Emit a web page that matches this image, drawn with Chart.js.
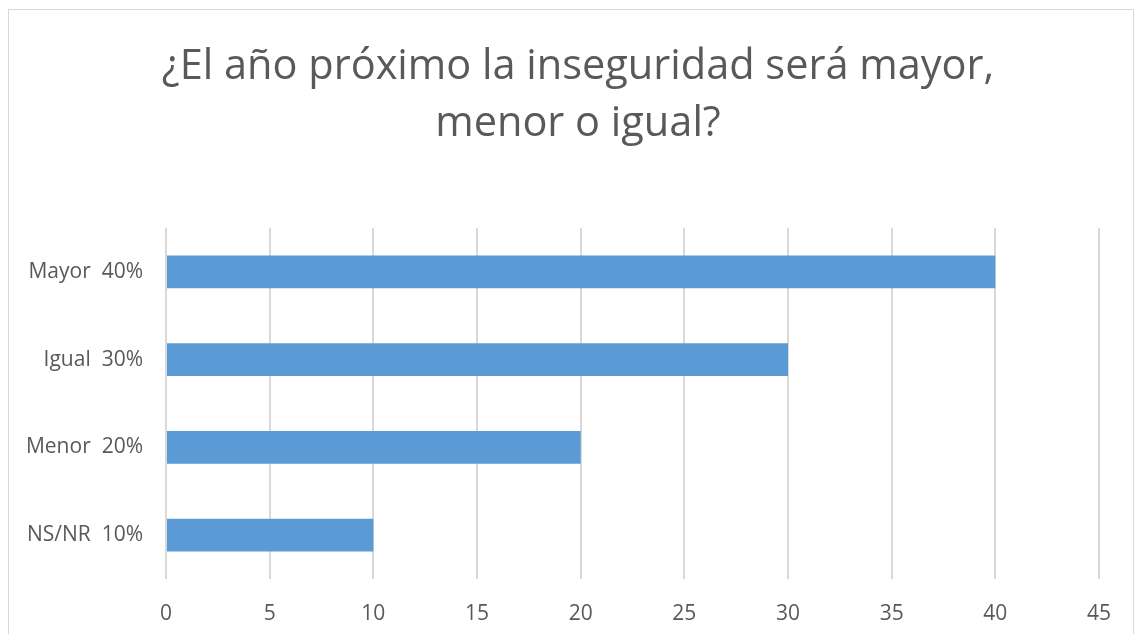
<!DOCTYPE html>
<html>
<head>
<meta charset="utf-8">
<script src="https://cdn.jsdelivr.net/npm/chart.js@4/dist/chart.umd.min.js"></script>
<style>
  body { margin: 0; background: #fff; }
  #wrap { position: relative; width: 1134px; height: 634px; }
  #frame { position: absolute; left: 8px; top: 9px; width: 1124px; height: 640px; border: 1px solid #d9d9d9; pointer-events: none; }
</style>
</head>
<body>
<div id="wrap">
  <canvas id="chart" width="1134" height="634"></canvas>
  <div id="frame"></div>
</div>
<script>
const categories = ['Mayor  40%', 'Igual  30%', 'Menor  20%', 'NS/NR  10%']
const values = [40, 30, 20, 10]
const titleLines = ['¿El año próximo la inseguridad será mayor,', 'menor o igual?']

const textColor = '#595959'
const font = 'Open Sans'

// title drawn by hand so it can sit a bit right of the canvas centre, like the original
const titlePlugin = {
  id: 'titleLines',
  afterDraw (chart) {
    const ctx = chart.ctx
    ctx.save()
    ctx.fillStyle = textColor
    ctx.font = '41.5px "' + font + '"'
    ctx.textAlign = 'center'
    ctx.textBaseline = 'alphabetic'
    titleLines.forEach(function (line, i) {
      ctx.fillText(line, 578, 79 + i * 57)
    })
    ctx.restore()
  }
}

new Chart(document.getElementById('chart'), {
  type: 'bar',
  data: {
    labels: categories,
    datasets: [{
      data: values,
      backgroundColor: '#5b9bd5',
      barPercentage: 0.75,
      categoryPercentage: 0.5
    }]
  },
  options: {
    indexAxis: 'y',
    responsive: false,
    animation: false,
    layout: { padding: { left: 0, right: 35, top: 228, bottom: 0 } },
    plugins: {
      legend: { display: false },
      tooltip: { enabled: false },
      title: { display: false }
    },
    scales: {
      x: {
        min: 0,
        max: 45,
        ticks: { stepSize: 5, color: textColor, font: { family: font, size: 21 }, padding: 22 },
        grid: { color: '#d9d9d9', lineWidth: 2, drawTicks: false },
        border: { display: false },
        afterFit: function (scale) { scale.height = 55 }
      },
      y: {
        ticks: { color: textColor, font: { family: font, size: 21 }, padding: 23 },
        grid: { display: false, drawTicks: false },
        border: { display: false },
        afterFit: function (scale) { scale.width = 166 }
      }
    }
  },
  plugins: [titlePlugin]
})
</script>
</body>
</html>
